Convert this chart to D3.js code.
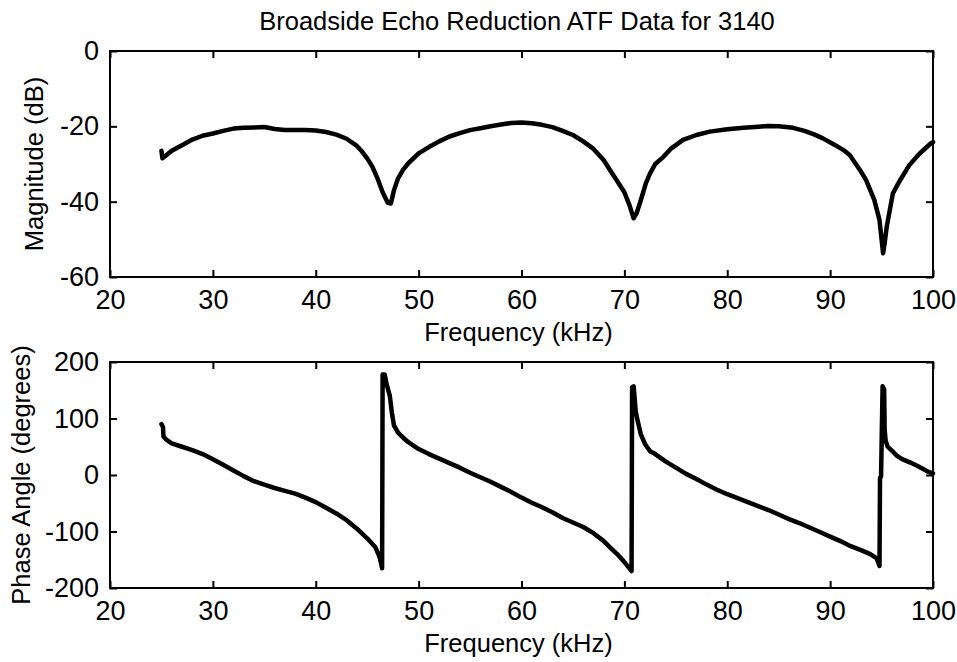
<html>
<head>
    <meta charset="utf-8">
    <title>Broadside Echo Reduction</title>
    <script src="https://d3js.org/d3.v7.min.js"></script>
    <style>
        body {
            margin: 0;
            background: #fff;
        }

        text {
            font-family: "Liberation Sans", Arial, sans-serif;
            fill: #000;
        }

        .tick text {
            font-size: 27px;
        }

        .axis-label {
            font-size: 25.5px;
        }

        .chart-title {
            font-size: 25.5px;
            text-anchor: middle;
        }

        .tick line {
            stroke: #000;
            stroke-width: 2;
        }

        .frame {
            fill: none;
            stroke: #000;
            stroke-width: 2;
        }

        .trace {
            fill: none;
            stroke: #000;
            stroke-width: 4.5;
            stroke-linejoin: round;
            stroke-linecap: round;
        }
    </style>
</head>
<body>
    <svg id="chart"></svg>

    <script>
        // magnitude trace (kHz, dB)
        const magFreq = [25.0, 25.1, 25.5, 26.0, 27.0, 28.0, 29.0, 30.0, 31.0, 32.0, 33.0, 34.0, 35.0, 36.0, 37.0, 38.0,
            39.0, 40.0, 41.0, 42.0, 43.0, 44.0, 44.5, 45.0, 45.5, 46.0, 46.5, 47.0, 47.3, 47.6, 48.0, 48.5, 49.0,
            50.0, 51.0, 52.0, 53.0, 54.0, 55.0, 56.0, 57.0, 58.0, 59.0, 60.0, 61.0, 62.0, 63.0, 64.0, 65.0, 66.0,
            67.0, 68.0, 68.6, 69.3, 70.0, 70.5, 70.9, 71.2, 71.7, 72.1, 72.5, 73.0, 73.8, 74.5, 75.7, 77.0, 78.3,
            80.0, 81.6, 83.0, 84.0, 85.0, 86.4, 87.5, 88.5, 89.3, 90.5, 91.3, 91.9, 92.5, 93.0, 93.5, 94.3, 94.8,
            95.0, 95.15, 95.3, 95.5, 96.1, 96.8, 97.7, 98.7, 99.8, 100.0];
        const magDb = [-26.5, -28.5, -27.6, -26.5, -25.0, -23.5, -22.5, -21.9, -21.2, -20.6, -20.4, -20.3, -20.2, -20.7, -21.0, -21.0,
            -21.0, -21.1, -21.5, -22.2, -23.3, -25.2, -26.7, -28.5, -30.7, -33.8, -37.5, -40.3, -40.5, -37.0, -33.8, -31.5, -29.8,
            -27.2, -25.5, -24.0, -22.7, -21.8, -21.0, -20.5, -20.0, -19.5, -19.1, -19.0, -19.2, -19.6, -20.2, -21.2, -22.3, -24.0,
            -26.0, -29.0, -31.6, -34.5, -37.5, -41.0, -44.4, -43.0, -38.7, -35.0, -32.5, -30.0, -28.1, -26.0, -23.6, -22.3, -21.4,
            -20.8, -20.4, -20.1, -19.9, -20.0, -20.4, -21.2, -22.2, -23.2, -25.0, -26.3, -27.6, -30.0, -32.0, -34.3, -39.6, -44.9,
            -50.0, -53.7, -51.0, -46.7, -37.8, -34.3, -30.3, -27.2, -24.5, -24.2];

        // phase trace (kHz, degrees)
        const phaseFreq = [25.0, 25.15, 25.2, 25.5, 26.0, 27.0, 28.0, 29.0, 30.0, 31.0, 32.0, 33.0, 34.0, 35.0, 36.0, 37.0,
            38.0, 39.0, 40.0, 41.0, 42.0, 43.0, 44.0, 45.0, 45.8, 46.2, 46.4, 46.45, 46.5, 46.7, 46.9, 47.2, 47.4,
            47.6, 48.0, 48.5, 49.0, 50.0, 51.0, 52.0, 53.0, 54.0, 55.0, 56.0, 57.0, 58.0, 59.0, 60.0, 61.0, 62.0,
            63.0, 64.0, 65.0, 66.0, 67.0, 68.0, 68.6, 69.3, 69.9, 70.4, 70.7, 70.75, 70.9, 71.1, 71.3, 71.6, 72.0,
            72.5, 73.0, 74.0, 75.0, 76.0, 77.0, 78.0, 79.0, 80.0, 81.0, 82.0, 83.0, 84.0, 85.0, 86.0, 87.0, 88.0,
            89.0, 90.0, 91.0, 92.0, 93.0, 93.9, 94.5, 94.8, 94.85, 94.95, 95.1, 95.25, 95.3, 95.4, 95.6, 96.0, 96.5,
            97.0, 97.8, 98.5, 99.0, 99.5, 100.0];
        const phaseDeg = [90, 85, 68, 62, 56, 50, 44, 37, 28, 18, 8, -2, -11, -17, -23, -28,
            -33, -40, -48, -58, -68, -80, -95, -112, -128, -145, -160, -165, 178, 178, 160, 140, 110,
            88, 75, 66, 58, 46, 37, 29, 21, 13, 4, -4, -12, -21, -30, -40, -49, -57,
            -66, -76, -84, -92, -103, -117, -128, -140, -152, -163, -170, 155, 157, 113, 95, 72, 55,
            42, 37, 24, 13, 2, -7, -17, -26, -34, -41, -48, -55, -62, -70, -78, -85, -93,
            -101, -109, -117, -126, -133, -140, -147, -161, -5, -3, 157, 152, 80, 60, 50, 43, 34,
            28, 22, 16, 11, 6, 3];

        const xTicks = [20, 30, 40, 50, 60, 70, 80, 90, 100];
        const magTicks = [-60, -40, -20, 0];
        const phaseTicks = [-200, -100, 0, 100, 200];

        const titleText = "Broadside Echo Reduction ATF Data for 3140";
        const xLabelText = "Frequency (kHz)";
        const magLabelText = "Magnitude (dB)";
        const phaseLabelText = "Phase Angle (degrees)";

        const fullWidth = 957;
        const fullHeight = 662;
        const left = 110, right = 933;

        // plain hyphen minus, like the original plot
        const plainFormat = d => String(d);

        const svg = d3.select("svg#chart")
            .attr("width", fullWidth)
            .attr("height", fullHeight);

        svg.append("rect")
            .attr("width", fullWidth)
            .attr("height", fullHeight)
            .attr("fill", "#fff");

        const xScale = d3.scaleLinear()
            .domain([20, 100])
            .range([left, right]);

        function drawPanel(top, bottom, yDomain, yTicks, freqs, vals, yLabel, yLabelX) {
            const yScale = d3.scaleLinear()
                .domain(yDomain)
                .range([bottom, top]);

            const g = svg.append("g");

            g.append("g")
                .attr("transform", `translate(0, ${bottom})`)
                .call(d3.axisBottom(xScale).tickValues(xTicks).tickFormat(plainFormat)
                    .tickSizeInner(-7).tickSizeOuter(0).tickPadding(13))
                .call(a => a.select(".domain").remove());

            g.append("g")
                .attr("transform", `translate(0, ${top})`)
                .call(d3.axisTop(xScale).tickValues(xTicks).tickSizeInner(-7).tickSizeOuter(0).tickFormat(""))
                .call(a => a.select(".domain").remove());

            g.append("g")
                .attr("transform", `translate(${left}, 0)`)
                .call(d3.axisLeft(yScale).tickValues(yTicks).tickFormat(plainFormat)
                    .tickSizeInner(-7).tickSizeOuter(0).tickPadding(11))
                .call(a => a.select(".domain").remove());

            g.append("g")
                .attr("transform", `translate(${right}, 0)`)
                .call(d3.axisRight(yScale).tickValues(yTicks).tickSizeInner(-7).tickSizeOuter(0).tickFormat(""))
                .call(a => a.select(".domain").remove());

            g.selectAll("g")
                .attr("font-family", null)
                .attr("font-size", null);

            g.append("rect")
                .attr("class", "frame")
                .attr("x", left)
                .attr("y", top)
                .attr("width", right - left)
                .attr("height", bottom - top);

            const line = d3.line()
                .x((d, i) => xScale(freqs[i]))
                .y(d => yScale(d));

            g.append("path")
                .datum(vals)
                .attr("class", "trace")
                .attr("d", line);

            g.append("text")
                .attr("class", "axis-label")
                .attr("text-anchor", "middle")
                .attr("x", (left + right) / 2 - 3)
                .attr("y", bottom + 64)
                .text(xLabelText);

            g.append("text")
                .attr("class", "axis-label")
                .attr("text-anchor", "middle")
                .attr("transform", `translate(${yLabelX}, ${(top + bottom) / 2})rotate(-90)`)
                .text(yLabel);
        }

        svg.append("text")
            .attr("class", "chart-title")
            .attr("x", 517)
            .attr("y", 30)
            .text(titleText);

        drawPanel(51, 277, [-60, 0], magTicks, magFreq, magDb, magLabelText, 43);
        drawPanel(362, 588, [-200, 200], phaseTicks, phaseFreq, phaseDeg, phaseLabelText, 30);
    </script>
</body>
</html>
